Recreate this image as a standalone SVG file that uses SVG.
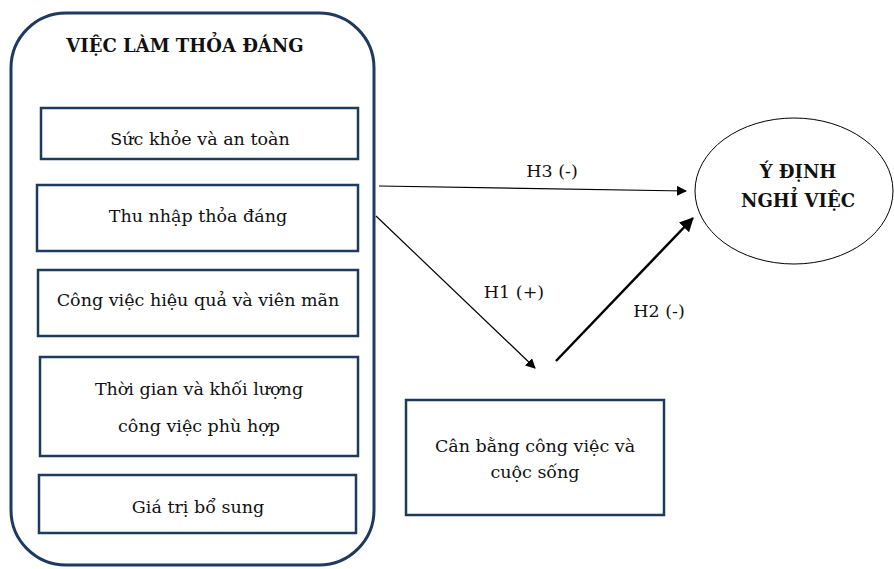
<svg xmlns="http://www.w3.org/2000/svg" width="894" height="569" viewBox="0 0 894 569">
<style>
.t{font-family:"DejaVu Serif","Liberation Serif",serif;font-size:17.5px;fill:#111;text-anchor:middle}
.b{font-weight:bold;font-size:18px}
.box{fill:#fff;stroke:#1f3a5f;stroke-width:2.5}
.ln{stroke:#000;fill:none}
</style>
<defs>
<marker id="ah" markerWidth="10" markerHeight="10" refX="9" refY="5" orient="auto" markerUnits="userSpaceOnUse" viewBox="0 0 10 10"><path d="M0,0 L10,5 L0,10 z" fill="#000"/></marker>
<marker id="ah2" markerWidth="14" markerHeight="14" refX="13" refY="7" orient="auto" markerUnits="userSpaceOnUse" viewBox="0 0 14 14"><path d="M0,0 L14,7 L0,14 z" fill="#000"/></marker>
</defs>
<rect width="894" height="569" fill="#fff"/>
<g id="group-main">
<rect x="11" y="13" width="363" height="552" rx="55" ry="55" fill="#fff" stroke="#1f3a5f" stroke-width="3"/>
<text class="t b" x="185" y="52">VIỆC LÀM THỎA ĐÁNG</text>
</g>
<g id="node-suckhoe">
<rect class="box" x="41" y="108" width="317" height="51"/>
<text class="t" x="200" y="145">Sức khỏe và an toàn</text>
</g>
<g id="node-thunhap">
<rect class="box" x="37" y="185" width="321" height="66"/>
<text class="t" x="198" y="222">Thu nhập thỏa đáng</text>
</g>
<g id="node-congviec">
<rect class="box" x="38" y="270" width="320" height="66"/>
<text class="t" x="198" y="306">Công việc hiệu quả và viên mãn</text>
</g>
<g id="node-thoigian">
<rect class="box" x="40" y="357" width="318" height="99"/>
<text class="t" x="199" y="395">Thời gian và khối lượng</text>
<text class="t" x="199" y="432">công việc phù hợp</text>
</g>
<g id="node-giatri">
<rect class="box" x="39" y="475" width="317" height="58"/>
<text class="t" x="198" y="513">Giá trị bổ sung</text>
</g>
<g id="node-canbang">
<rect class="box" x="406" y="400" width="258" height="115"/>
<text class="t" x="535" y="452">Cân bằng công việc và</text>
<text class="t" x="535" y="478">cuộc sống</text>
</g>
<g id="node-ydinh">
<ellipse cx="794" cy="191" rx="99" ry="73" fill="#fff" stroke="#000" stroke-width="1"/>
<text class="t b" x="798" y="178">Ý ĐỊNH</text>
<text class="t b" x="798" y="207">NGHỈ VIỆC</text>
</g>
<g id="connectors">
<line class="ln" x1="379" y1="186" x2="686" y2="191" stroke-width="1.2" marker-end="url(#ah)"/>
<line class="ln" x1="376" y1="216" x2="535" y2="368" stroke-width="1.2" marker-end="url(#ah)"/>
<line class="ln" x1="556" y1="361" x2="693" y2="218" stroke-width="2.5" marker-end="url(#ah2)"/>
<text class="t" x="552" y="177">H3 (-)</text>
<text class="t" x="514" y="298">H1 (+)</text>
<text class="t" x="659" y="317">H2 (-)</text>
</g>
</svg>
